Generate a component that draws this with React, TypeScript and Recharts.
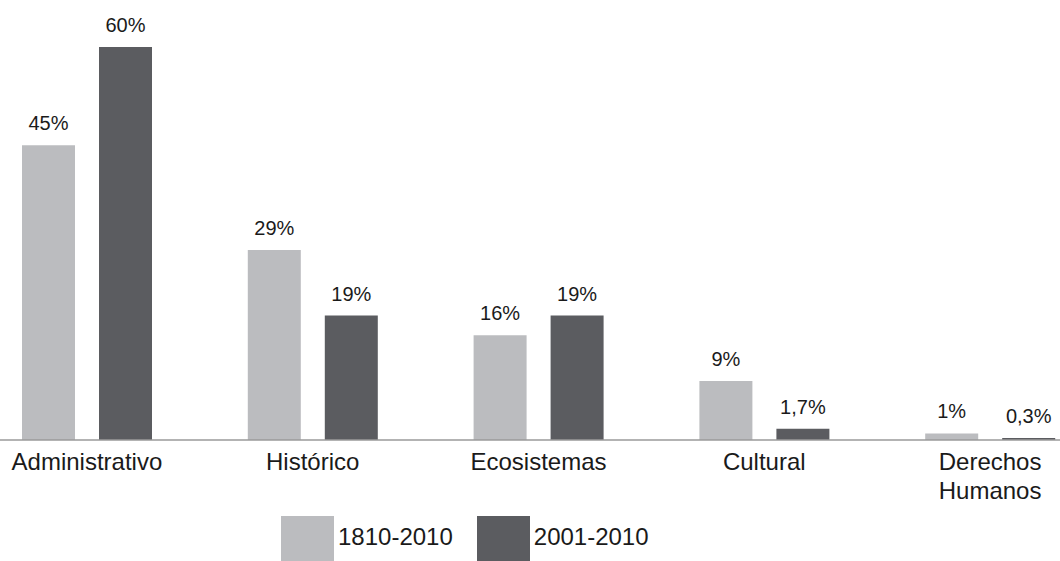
import React from "react";
import { BarChart, Bar, XAxis, YAxis, LabelList, Legend } from "recharts";

const categories = ["Administrativo", "Histórico", "Ecosistemas", "Cultural", "Derechos Humanos"];
const serie1810 = [45, 29, 16, 9, 1];
const serie2001 = [60, 19, 19, 1.7, 0.3];
const seriesNames = ["1810-2010", "2001-2010"];
const seriesColors = ["#bbbcbf", "#5b5c60"];

const data = categories.map((name, i) => ({ name, a: serie1810[i], b: serie2001[i] }));

const pct = (v: any) => `${String(v).replace(".", ",")}%`;

// etiquetas del eje, en dos líneas cuando hay espacio
function CategoryTick({ x, y, payload }: any) {
  const lines = String(payload.value).split(" ");
  return (
    <text x={x} y={y} textAnchor="middle" fontSize={24} fill="#1a1a1a">
      {lines.map((l, i) => (
        <tspan key={i} x={x} dy={i === 0 ? 30 : 29}>{l}</tspan>
      ))}
    </text>
  );
}

function LegendBox() {
  return (
    <div style={{ display: "flex", alignItems: "flex-start" }}>
      {seriesNames.map((n, i) => (
        <div key={n} style={{ display: "flex", alignItems: "flex-start" }}>
          <div style={{ width: 53, height: 53, background: seriesColors[i] }} />
          <span style={{ fontSize: 24, lineHeight: "28px", marginTop: 7, marginLeft: 4, marginRight: 24, color: "#1a1a1a" }}>
            {n}
          </span>
        </div>
      ))}
    </div>
  );
}

export default function App() {
  return (
    <div
      style={{
        position: "absolute", left: 0, top: 0, width: 1060, height: 561,
        overflow: "hidden", background: "#fff",
        fontFamily: "'Liberation Sans', Arial, sans-serif",
      }}
    >
      <div style={{ position: "absolute", left: -26, top: 0 }}>
        <BarChart
          width={1129}
          height={561}
          data={data}
          margin={{ top: 47, right: 0, bottom: 0, left: 0 }}
          barGap={24}
          barSize={53}
        >
          <XAxis
            dataKey="name"
            height={121}
            interval={0}
            tickLine={false}
            tickSize={0}
            tickMargin={0}
            axisLine={{ stroke: "#9a9a9a", strokeWidth: 1.5 }}
            tick={<CategoryTick />}
          />
          <YAxis hide domain={[0, 60]} />
          <Legend
            layout="horizontal"
            align="center"
            verticalAlign="middle"
            content={() => <LegendBox />}
            wrapperStyle={{ left: 281 + 26, top: 516, width: 500 }}
          />
          <Bar dataKey="a" name={seriesNames[0]} fill={seriesColors[0]} isAnimationActive={false}>
            <LabelList dataKey="a" position="top" offset={15} formatter={pct} fontSize={20} fill="#1a1a1a" />
          </Bar>
          <Bar dataKey="b" name={seriesNames[1]} fill={seriesColors[1]} isAnimationActive={false}>
            <LabelList dataKey="b" position="top" offset={15} formatter={pct} fontSize={20} fill="#1a1a1a" />
          </Bar>
        </BarChart>
      </div>
    </div>
  );
}
